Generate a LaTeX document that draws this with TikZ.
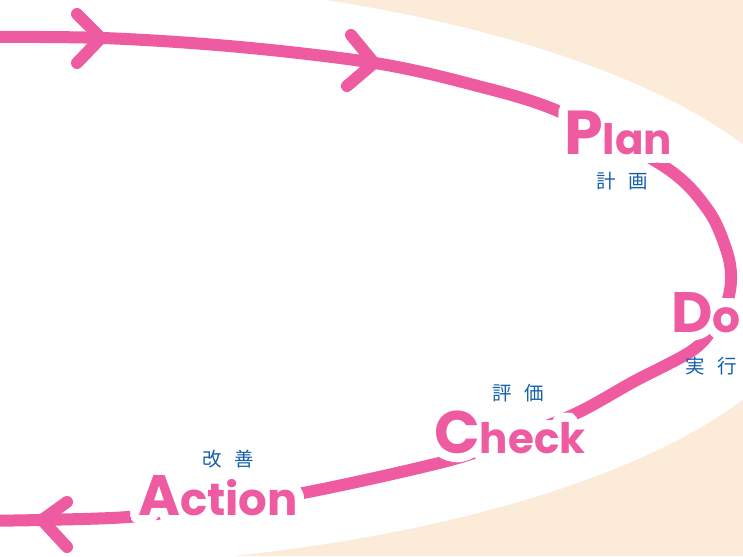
\documentclass[tikz,border=0pt]{standalone}
\usepackage{fontspec}
\usepackage{contour}
\newfontfamily\popfont{Poppins}
\newfontfamily\jpfont{Noto Sans CJK JP}
\definecolor{pdcapink}{RGB}{238,91,161}
\definecolor{pdcapeach}{RGB}{252,235,217}
\definecolor{pdcablue}{RGB}{22,96,170}
\contourlength{9pt}
\contournumber{40}
\newcommand\pdcaword[4]{\contour{white}{\fontsize{#1}{#1}\selectfont #3\fontsize{#2}{#2}\selectfont #4}}
\tikzset{
  cycleline/.style={draw=pdcapink, line width=12pt},
  chevron/.style={draw=pdcapink, line width=12pt, line cap=round, line join=round},
  bigword/.style={anchor=base west, inner sep=0pt, text=pdcapink, font=\popfont\bfseries},
  jpword/.style={inner sep=0pt, text=pdcablue, font=\jpfont\fontsize{19.5}{19.5}\selectfont},
}
\begin{document}
\begin{tikzpicture}[x=1pt, y=-1pt]
\useasboundingbox (0,0) rectangle (743,556);
\clip (0,0) rectangle (743,556);
\fill[pdcapeach] (0,0) rectangle (743,556);
\fill[white] (0,272) ellipse [x radius=823pt, y radius=296pt];
% cycle curve
\draw[cycleline] plot[smooth, tension=0.55] coordinates {
  (-30,37) (103,38) (240,47) (375,63) (470,84) (558,111) (665,167)
  (708,210) (727,252) (731,280) (726,305) (712,330) (690,352)
  (633,382) (577,413) (510,440) (443,462) (303,493) (200,508)
  (128,517) (40,520) (-30,521)};
% arrowheads
\draw[chevron] (77,14) -- (101,38) -- (77,63);
\draw[chevron] (351,35) -- (374,63) -- (347,86);
\draw[chevron] (67,502) -- (42,520) -- (67,547);
% labels
\node[bigword] (plan) at (564,155) {\pdcaword{62}{42}{P}{lan}};
\node[bigword] (do) at (671,332) {\pdcaword{57}{44}{D}{o}};
\node[bigword] (check) at (434,453) {\pdcaword{60}{42}{C}{heck}};
\node[bigword] (action) at (138,515) {\pdcaword{57}{45}{A}{ction}};
\node[jpword] (planjp) at (622,181) {計\hspace{13pt}画};
\node[jpword] (dojp) at (711,366) {実\hspace{13pt}行};
\node[jpword] (checkjp) at (518,393) {評\hspace{13pt}価};
\node[jpword] (actionjp) at (228,459) {改\hspace{13pt}善};
\end{tikzpicture}
\end{document}
